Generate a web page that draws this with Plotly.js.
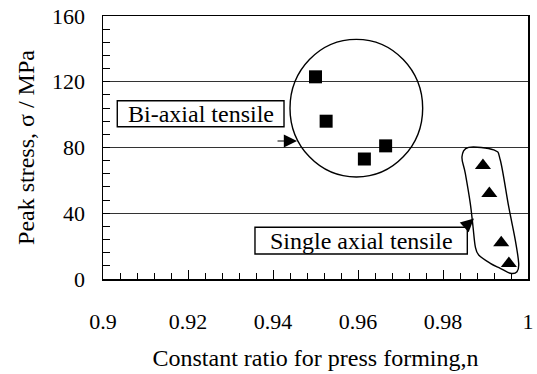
<!DOCTYPE html>
<html>
<head>
<meta charset="utf-8">
<script src="https://cdn.plot.ly/plotly-3.0.1.min.js"></script>
<style>html,body{margin:0;padding:0;background:#fff;}#chart{width:537px;height:374px;}</style>
</head>
<body>
<div id="chart"></div>
<script>
// Data
var biaxialN = [0.9500, 0.9525, 0.9615, 0.9665];
var biaxialStress = [123, 96, 73, 81];
var singleN = [0.9894, 0.9909, 0.9937, 0.9955];
var singleStress = [69, 52, 22, 9.5];
var xTickVals = [0.9, 0.92, 0.94, 0.96, 0.98, 1.0];
var xTickText = ['0.9', '0.92', '0.94', '0.96', '0.98', '1'];
var yTickVals = [0, 40, 80, 120, 160];
var yTickText = ['0', '40', '80', '120', '160'];

// Outline of the loop around the single-axial group (data coords)
var loopPts = [
  [0.98447, 74.4], [0.98605, 80.1], [0.99193, 78.5], [0.99348, 72.4],
  [0.99546, 44.0], [0.99701, 23.7], [0.99781, 9.55], [0.99741, 4.44],
  [0.99584, 3.47], [0.99348, 6.5], [0.99113, 9.55], [0.9884, 14.6],
  [0.9876, 19.65], [0.98706, 31.8], [0.98642, 46.05], [0.98525, 64.3]
];
function closedCatmull(p) {
  var n = p.length, d = 'M' + p[0][0] + ',' + p[0][1];
  for (var i = 0; i < n; i++) {
    var p0 = p[(i - 1 + n) % n], p1 = p[i], p2 = p[(i + 1) % n], p3 = p[(i + 2) % n];
    var c1x = p1[0] + (p2[0] - p0[0]) / 6, c1y = p1[1] + (p2[1] - p0[1]) / 6;
    var c2x = p2[0] - (p3[0] - p1[0]) / 6, c2y = p2[1] - (p3[1] - p1[1]) / 6;
    d += ' C' + c1x + ',' + c1y + ' ' + c2x + ',' + c2y + ' ' + p2[0] + ',' + p2[1];
  }
  return d + ' Z';
}

var font = 'Liberation Serif';

var traces = [
  {x: biaxialN, y: biaxialStress, mode: 'markers', type: 'scatter',
   marker: {symbol: 'square', size: 13, color: '#000'}, cliponaxis: false},
  {x: singleN, y: singleStress, mode: 'markers', type: 'scatter',
   marker: {symbol: 'triangle-up', size: 14, color: '#000'}, cliponaxis: false}
];

var layout = {
  width: 537, height: 374,
  margin: {l: 103, r: 9, t: 16, b: 95},
  paper_bgcolor: '#fff', plot_bgcolor: '#fff',
  showlegend: false,
  font: {family: font, color: '#000', size: 22},
  xaxis: {
    range: [0.9, 1.0], tickvals: xTickVals, ticktext: xTickText,
    ticks: 'inside', ticklen: 9, tickwidth: 1, tickcolor: '#000',
    minor: {dtick: 0.004, tick0: 0.9, ticks: 'inside', ticklen: 6, tickwidth: 1, tickcolor: '#000', showgrid: false},
    showgrid: false, zeroline: false,
    showline: true, linecolor: '#000', linewidth: 1.5, mirror: true,
    tickfont: {family: font, size: 22, color: '#000'},
    ticklabelstandoff: 22,
    title: {text: 'Constant ratio for press forming,n', font: {family: font, size: 24, color: '#000'}, standoff: 16}
  },
  yaxis: {
    range: [0, 160], tickvals: yTickVals, ticktext: yTickText,
    ticks: 'inside', ticklen: 7, tickwidth: 1, tickcolor: '#000',
    minor: {dtick: 8, tick0: 0, ticks: 'inside', ticklen: 7, tickwidth: 1, tickcolor: '#000', showgrid: false},
    showgrid: true, gridcolor: '#333', gridwidth: 1,
    zeroline: false,
    showline: true, linecolor: '#000', linewidth: 1.5, mirror: true,
    tickfont: {family: font, size: 22, color: '#000'},
    ticklabelstandoff: 12,
    title: {text: 'Peak stress, σ / MPa', font: {family: font, size: 24, color: '#000'}, standoff: 10}
  },
  shapes: [
    {type: 'circle', xref: 'x', yref: 'y', x0: 0.9440, x1: 0.97522, y0: 62.05, y1: 145.8,
     line: {color: '#000', width: 1.4}},
    {type: 'path', xref: 'x', yref: 'y', path: closedCatmull(loopPts),
     line: {color: '#000', width: 1.4}},
    {type: 'rect', xref: 'x', yref: 'y', x0: 0.90336, x1: 0.94259, y0: 92.65, y1: 108.47,
     line: {color: '#000', width: 1.4}, fillcolor: '#fff', layer: 'above'},
    {type: 'rect', xref: 'x', yref: 'y', x0: 0.93576, x1: 0.98572, y0: 15.2, y1: 31.45,
     line: {color: '#000', width: 1.4}, fillcolor: '#fff', layer: 'above'}
  ],
  annotations: [
    {x: 0.92298, y: 100.5, xref: 'x', yref: 'y', text: 'Bi-axial tensile', showarrow: false,
     font: {family: font, size: 24, color: '#000'}, xanchor: 'center', yanchor: 'middle'},
    {x: 0.96074, y: 23.33, xref: 'x', yref: 'y', text: 'Single axial tensile', showarrow: false,
     font: {family: font, size: 24, color: '#000'}, xanchor: 'center', yanchor: 'middle'},
    {x: 0.94565, y: 83.95, ax: 0.94071, ay: 83.95, xref: 'x', yref: 'y', axref: 'x', ayref: 'y',
     text: '', showarrow: true, arrowhead: 2, arrowsize: 2.2, arrowwidth: 1.2, arrowcolor: '#000', standoff: 0},
    {x: 0.98729, y: 36.8, ax: 0.98482, ay: 31.0, xref: 'x', yref: 'y', axref: 'x', ayref: 'y',
     text: '', showarrow: true, arrowhead: 2, arrowsize: 2.2, arrowwidth: 1.2, arrowcolor: '#000', standoff: 0}
  ]
};

Plotly.newPlot('chart', traces, layout, {staticPlot: true, displayModeBar: false});
</script>
</body>
</html>
